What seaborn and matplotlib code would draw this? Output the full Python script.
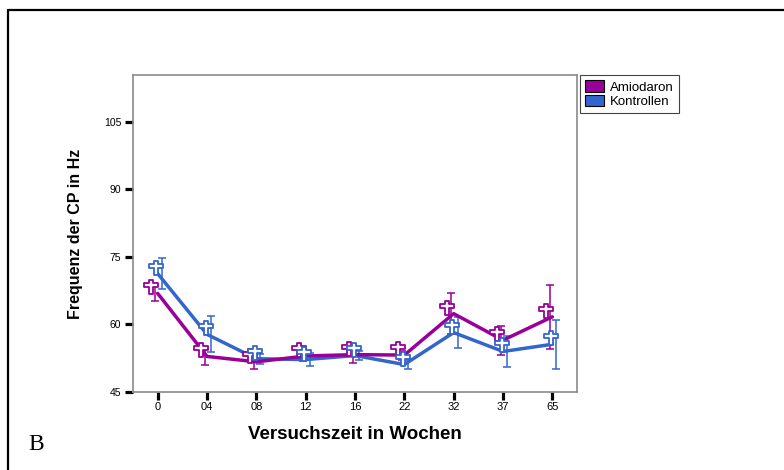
import numpy as np
import pandas as pd
import matplotlib
matplotlib.use("Agg")
import matplotlib.pyplot as plt
import matplotlib.transforms as mtransforms
from matplotlib.path import Path
from matplotlib.patches import Patch
from matplotlib.lines import Line2D
import seaborn as sns

# Data: mean frequency (Hz) per study week, with error half-widths
weeks = ["0", "04", "08", "12", "16", "22", "32", "37", "65"]
amiodaron = [66.9, 52.9, 51.7, 53.0, 53.3, 53.2, 62.4, 56.5, 61.7]
amiodaron_err = [1.8, 1.9, 1.5, 1.2, 1.85, 1.0, 4.6, 3.2, 7.15]
kontrollen = [71.3, 57.8, 52.4, 52.2, 53.1, 51.1, 58.2, 54.0, 55.6]
kontrollen_err = [3.4, 4.0, 1.1, 1.5, 1.1, 1.0, 3.4, 3.5, 5.4]
groups = ["Amiodaron", "Kontrollen"]
y_ticks = [45, 60, 75, 90, 105]

colors = {"Amiodaron": "#990099", "Kontrollen": "#3366cc"}

sns.set_style("white")
plt.rcParams["font.family"] = ["Liberation Sans", "DejaVu Sans"]
plt.rcParams["text.color"] = "black"
plt.rcParams["axes.labelcolor"] = "black"
plt.rcParams["xtick.color"] = "black"
plt.rcParams["ytick.color"] = "black"

pos = np.arange(len(weeks))
df = pd.concat([
    pd.DataFrame({"pos": pos, "val": amiodaron, "err": amiodaron_err, "Gruppe": groups[0]}),
    pd.DataFrame({"pos": pos, "val": kontrollen, "err": kontrollen_err, "Gruppe": groups[1]}),
], ignore_index=True)

W, H = 784, 470
fig = plt.figure(figsize=(W / 100, H / 100), dpi=100)
ax = fig.add_axes([133 / W, 1 - 392 / H, (577 - 133) / W, (392 - 75) / H])

# Latin-cross marker used for the group means
cross = Path([(-6, 18), (6, 18), (6, 10), (18, 10), (18, 0), (6, 0), (6, -18),
              (-6, -18), (-6, 0), (-18, 0), (-18, 10), (-6, 10), (-6, 18)],
             [Path.MOVETO] + [Path.LINETO] * 11 + [Path.CLOSEPOLY])

def px_shift(dx, dy):
    return ax.transData + mtransforms.ScaledTranslation(dx / 100, dy / 100, fig.dpi_scale_trans)

bar_dx = {"Amiodaron": -2.5, "Kontrollen": 4.0}
mark_dx = {"Amiodaron": -6.5, "Kontrollen": -1.5}

# error bars (slightly dodged)
for g in groups:
    sub = df[df["Gruppe"] == g]
    ax.errorbar(sub["pos"], sub["val"], yerr=sub["err"], fmt="none",
                ecolor=colors[g], elinewidth=1.1, capsize=3.2, capthick=1.1,
                transform=px_shift(bar_dx[g], 0), zorder=2)

# connecting lines of the means
sns.lineplot(data=df[df["Gruppe"] == "Kontrollen"], x="pos", y="val", color=colors["Kontrollen"],
             linewidth=2.5, errorbar=None, legend=False, ax=ax, zorder=3)
sns.lineplot(data=df[df["Gruppe"] == "Amiodaron"], x="pos", y="val", color=colors["Amiodaron"],
             linewidth=2.5, errorbar=None, legend=False, ax=ax, zorder=3)

# mean markers
for g in groups:
    sub = df[df["Gruppe"] == g]
    ax.plot(sub["pos"], sub["val"], linestyle="none", marker=cross, markersize=9.5,
            markerfacecolor="white", markeredgecolor=colors[g], markeredgewidth=1.3,
            transform=px_shift(mark_dx[g], 6), zorder=4)

ax.set_xlim(-0.5, 8.5)
ax.set_ylim(45, 115.4)
ax.set_xticks(pos)
ax.set_xticklabels(weeks)
ax.set_yticks(y_ticks)
ax.set_yticklabels([str(v) for v in y_ticks])
ax.tick_params(axis="both", which="both", direction="out", length=5.5, width=2.3,
               color="black", labelcolor="black", labelsize=8, pad=3,
               bottom=True, left=True, top=False, right=False)
ax.tick_params(axis="x", pad=2)
ax.tick_params(axis="y", labelsize=7.5)
for s in ax.spines.values():
    s.set_visible(True)
    s.set_color("#8a8a8a")
    s.set_linewidth(1.2)

ax.set_xlabel("Versuchszeit in Wochen", fontsize=13.5, fontweight="bold", labelpad=10)
ax.set_ylabel("Frequenz der CP in Hz", fontsize=11.5, fontweight="bold", labelpad=15)

handles = [Patch(facecolor=colors[g], edgecolor="black", linewidth=0.8, label=g) for g in groups]
leg = ax.legend(handles=handles, loc="upper left", bbox_to_anchor=(580 / W, 1 - 75 / H),
                bbox_transform=fig.transFigure, fontsize=9.5, frameon=True, fancybox=False,
                framealpha=1, edgecolor="#444444", handlelength=1.4, handleheight=0.95,
                handletextpad=0.5, labelspacing=0.1, borderpad=0.4, borderaxespad=0)
leg.get_frame().set_linewidth(0.8)
for t in leg.get_texts():
    t.set_color("black")

# panel letter and frame lines
fig.text(28 / W, 1 - 444 / H, "B", fontsize=17, family="Liberation Serif", va="center", ha="left")
fig.add_artist(Line2D([8 / W, 1.0], [1 - 9.5 / H, 1 - 9.5 / H], color="black", linewidth=1.6,
                      transform=fig.transFigure))
fig.add_artist(Line2D([8 / W, 8 / W], [0, 1 - 9.5 / H], color="black", linewidth=1.6,
                      transform=fig.transFigure))

fig.savefig("out.png", dpi=100, facecolor="white")
